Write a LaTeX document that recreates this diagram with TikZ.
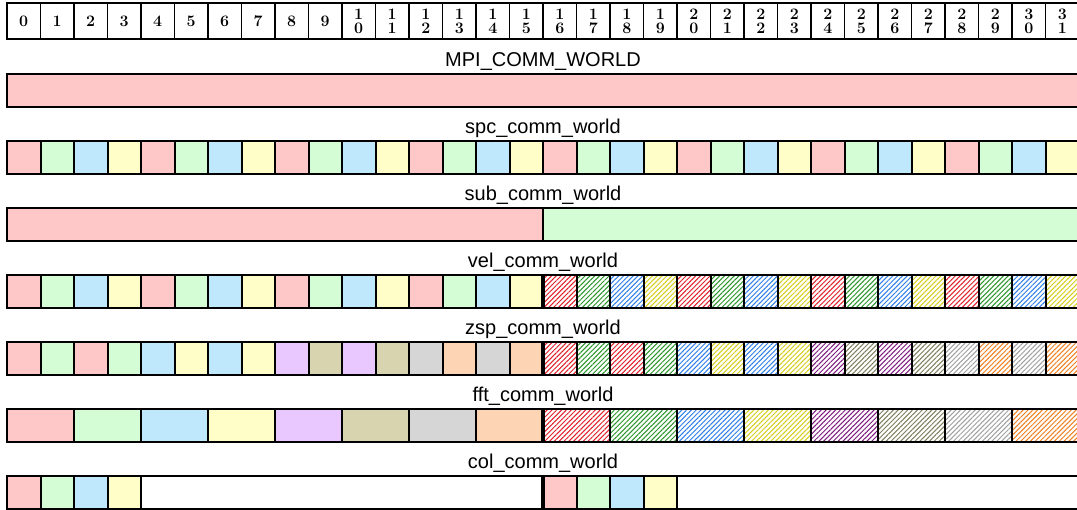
\documentclass[tikz,border=0pt]{standalone}
\usepackage{fontspec}
\setsansfont{Liberation Sans}
\newfontfamily\numfont{Latin Modern Roman}
\usetikzlibrary{patterns.meta}
\definecolor{cP}{HTML}{FFC8C8}
\definecolor{cG}{HTML}{D5FDD5}
\definecolor{cB}{HTML}{BFE8FD}
\definecolor{cY}{HTML}{FFFDC8}
\definecolor{cV}{HTML}{E8C8FF}
\definecolor{cO}{HTML}{D8D4AF}
\definecolor{cA}{HTML}{D6D6D6}
\definecolor{cR}{HTML}{FDD5B4}
\definecolor{hP}{HTML}{E0202A}
\definecolor{hG}{HTML}{2A962A}
\definecolor{hB}{HTML}{2F7FE8}
\definecolor{hY}{HTML}{D6CE1E}
\definecolor{hV}{HTML}{801A80}
\definecolor{hO}{HTML}{7E7E5E}
\definecolor{hA}{HTML}{A0A0A0}
\definecolor{hR}{HTML}{F08020}
\newcommand\solidc[4]{\filldraw[cellb,fill=#4] ({7+33.5*#2},#1) rectangle ({7+33.5*(#2+#3)},{#1+33.5});}
\newcommand\hatchc[4]{\fill[white] ({7+33.5*#2},#1) rectangle ({7+33.5*(#2+#3)},{#1+33.5});
  \draw[cellb,pattern={Lines[angle=45,distance=3.4pt,line width=1pt]},pattern color=h#4] ({7+33.5*#2},#1) rectangle ({7+33.5*(#2+#3)},{#1+33.5});}
\newcommand\sepline[1]{\draw[line width=4pt] (543,#1) -- (543,{#1+33.5});}
\newcommand\idxlabel[2]{{\numfont\bfseries\fontsize{16}{16}\selectfont\ifnum#1<10 #1\else\shortstack{#2}\fi}}
\begin{document}
\begin{tikzpicture}[x=1pt,y=-1pt,
  cellb/.style={draw=black,line width=2pt},
  lbl/.style={font=\sffamily\fontsize{20}{24}\selectfont,inner sep=0,anchor=base},
  idx/.style={inner sep=0}]
\useasboundingbox (0,0) rectangle (1077,510);
\clip (0,0) rectangle (1077,510);
% top index row
\foreach \i in {0,...,31} {
  \pgfmathtruncatemacro\tens{int(\i/10)}
  \pgfmathtruncatemacro\ones{mod(\i,10)}
  \draw[line width=1.8pt] ({7+33.5*\i},3) rectangle ({7+33.5*(\i+1)},39);
  \node[idx] (n\i) at ({7+33.5*(\i+0.5)},21.5) {\idxlabel{\i}{\tens\\\ones}};
}
% MPI_COMM_WORLD
\node[lbl] (lmpi) at (543,66.7) {MPI\_COMM\_WORLD};
\solidc{74}{0}{32}{cP}
% spc_comm_world
\node[lbl] (lspc) at (543,133.7) {spc\_comm\_world};
\foreach \c [count=\k from 0] in {cP,cG,cB,cY,cP,cG,cB,cY,cP,cG,cB,cY,cP,cG,cB,cY,cP,cG,cB,cY,cP,cG,cB,cY,cP,cG,cB,cY,cP,cG,cB,cY}
  {\solidc{141}{\k}{1}{\c}}
% sub_comm_world
\node[lbl] (lsub) at (543,200.7) {sub\_comm\_world};
\solidc{208}{0}{16}{cP}
\solidc{208}{16}{16}{cG}
% vel_comm_world
\node[lbl] (lvel) at (543,267.7) {vel\_comm\_world};
\foreach \c [count=\k from 0] in {cP,cG,cB,cY,cP,cG,cB,cY,cP,cG,cB,cY,cP,cG,cB,cY}
  {\solidc{275}{\k}{1}{\c}}
\foreach \c [count=\k from 16] in {P,G,B,Y,P,G,B,Y,P,G,B,Y,P,G,B,Y}
  {\hatchc{275}{\k}{1}{\c}}
\sepline{275}
% zsp_comm_world
\node[lbl] (lzsp) at (543,334.7) {zsp\_comm\_world};
\foreach \c [count=\k from 0] in {cP,cG,cP,cG,cB,cY,cB,cY,cV,cO,cV,cO,cA,cR,cA,cR}
  {\solidc{342}{\k}{1}{\c}}
\foreach \c [count=\k from 16] in {P,G,P,G,B,Y,B,Y,V,O,V,O,A,R,A,R}
  {\hatchc{342}{\k}{1}{\c}}
\sepline{342}
% fft_comm_world
\node[lbl] (lfft) at (543,401.7) {fft\_comm\_world};
\foreach \c [count=\k from 0] in {cP,cG,cB,cY,cV,cO,cA,cR}
  {\solidc{409}{2*\k}{2}{\c}}
\foreach \c [count=\k from 8] in {P,G,B,Y,V,O,A,R}
  {\hatchc{409}{2*\k}{2}{\c}}
\sepline{409}
% col_comm_world
\node[lbl] (lcol) at (543,468.7) {col\_comm\_world};
\foreach \c [count=\k from 0] in {cP,cG,cB,cY}
  {\solidc{476}{\k}{1}{\c}}
\solidc{476}{4}{12}{white}
\foreach \c [count=\k from 16] in {cP,cG,cB,cY}
  {\solidc{476}{\k}{1}{\c}}
\solidc{476}{20}{12}{white}
\sepline{476}
\end{tikzpicture}
\end{document}
